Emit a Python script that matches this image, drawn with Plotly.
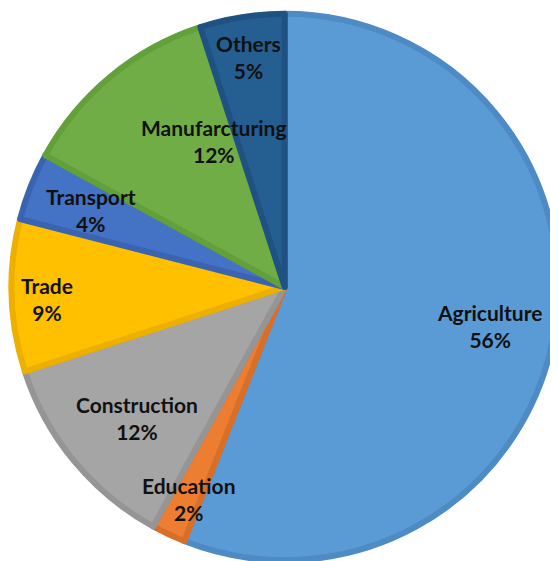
import math
import plotly.graph_objects as go

sectors = ["Agriculture", "Education", "Construction", "Trade", "Transport", "Manufarcturing", "Others"]
shares = [56, 2, 12, 9, 4, 12, 5]

fill_colors = ["#5B9BD5", "#ED7D31", "#A5A5A5", "#FFC000", "#4472C4", "#70AD47", "#255E91"]
edge_colors = ["#4E8AC3", "#D96F27", "#959595", "#EDB000", "#3A64B2", "#62A03A", "#1F5182"]

# label placement style: (radius fraction, angular shift in degrees)
label_style = [(0.763, 0), (0.852, -1), (0.723, -2), (0.871, -1), (0.762, 0), (0.594, 13.7), (0.851, 0)]

# figure size (the page body adds an 8px margin around it)
W, H = 550, 553
dom_x = [0.0064, 1.0]
dom_y = [0.0009, 0.9900]

fig = go.Figure(go.Pie(
    labels=sectors,
    values=shares,
    sort=False,
    direction="clockwise",
    rotation=0,
    textinfo="none",
    hoverinfo="label+percent",
    domain=dict(x=dom_x, y=dom_y),
    showlegend=False,
    marker=dict(colors=fill_colors, line=dict(color=edge_colors, width=6)),
))

# geometry of the pie in pixels (plotly centres the circle in its domain)
dw = (dom_x[1] - dom_x[0]) * W
dh = (dom_y[1] - dom_y[0]) * H
r = min(dw, dh) / 2
cx = dom_x[0] * W + dw / 2
cy = (1 - dom_y[1]) * H + dh / 2

total = sum(shares)
cum = 0
annotations = []
for name, v, (frac, shift) in zip(sectors, shares, label_style):
    mid = (cum + v / 2) / total * 360 + shift
    cum += v
    a = math.radians(mid)
    px = cx + frac * r * math.sin(a)
    py = cy - frac * r * math.cos(a)
    annotations.append(dict(
        x=px / W, y=1 - py / H, xref="paper", yref="paper",
        text=f"<b>{name}</b><br><b>{round(v / total * 100)}%</b>",
        showarrow=False, xanchor="center", yanchor="middle",
        font=dict(family="Lato, 'Open Sans', sans-serif", size=21, color="#111111"),
        align="center",
    ))

fig.update_layout(
    width=W, height=H,
    margin=dict(l=0, r=0, t=0, b=0),
    paper_bgcolor="white",
    plot_bgcolor="white",
    annotations=annotations,
)

fig.write_html("out.html")
